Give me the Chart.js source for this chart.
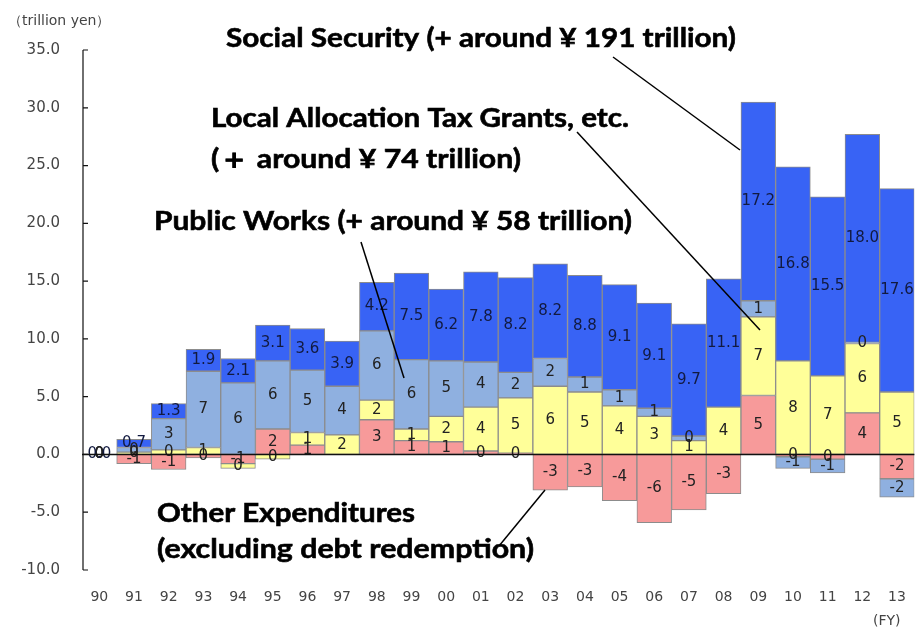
<!DOCTYPE html>
<html>
<head>
<meta charset="utf-8">
<script src="https://cdn.jsdelivr.net/npm/chart.js@4.4.1/dist/chart.umd.min.js"></script>
<style>
  html, body { margin: 0; padding: 0; background: #fff; overflow: hidden; width: 917px; height: 630px; }
  canvas { display: block; }
</style>
</head>
<body>
<canvas id="chart" width="925" height="630"></canvas>
<script>
// Fiskaljahre und Werte (Billionen Yen)
const years = ["90","91","92","93","94","95","96","97","98","99","00","01","02","03","04","05","06","07","08","09","10","11","12","13"];
const socialSecurity  = [0, 0.7, 1.3, 1.9, 2.1, 3.1, 3.6, 3.9, 4.2, 7.5, 6.2, 7.8, 8.2, 8.2, 8.8, 9.1, 9.1, 9.7, 11.1, 17.2, 16.8, 15.5, 18.0, 17.6];
const publicWorks     = [0, 0.4, 2.7, 6.6, 6.2, 5.9, 5.4, 4.2, 6.0, 6.0, 4.8, 3.9, 2.2, 2.4, 1.3, 1.4, 0.7, 0.4, null, 1.4, -1.0, -1.2, 0.1, -1.6];
const localAllocation = [0, 0.2, 0.4, 0.6, -0.4, -0.4, 1.1, 1.7, 1.7, 1.0, 2.2, 3.8, 4.8, 5.9, 5.4, 4.2, 3.3, 1.2, 4.1, 6.8, 8.1, 6.8, 6.0, 5.4];
const otherExpenses   = [0, -0.8, -1.3, -0.3, -0.8, 2.2, 0.8, null, 3.0, 1.2, 1.1, 0.3, 0.1, -3.1, -2.8, -4.0, -5.9, -4.8, -3.4, 5.1, -0.2, -0.4, 3.6, -2.1];
const yTicks = [-10, -5, 0, 5, 10, 15, 20, 25, 30, 35];

// Beschriftungen im Diagramm
const notes = [
    { text: "Social Security (+ around ¥ 191 trillion)", x: 226, y: 47, w: 510 },
    { text: "Local Allocation Tax Grants, etc.", x: 211, y: 127, w: 418 },
    { text: "(＋ around ¥ 74 trillion)", x: 211, y: 168, w: 310 },
    { text: "Public Works (+ around ¥ 58 trillion)", x: 154, y: 230, w: 478 },
    { text: "Other Expenditures", x: 157, y: 522, w: 258 },
    { text: "(excluding debt redemption)", x: 157, y: 558, w: 377 }
];
const pointers = [
    [613, 57, 740, 150],
    [577, 132, 760, 330],
    [361, 242, 404, 378],
    [499, 546, 545, 490]
];

const smallFont = "'DejaVu Sans', sans-serif";
const barStyle = { borderColor: "#8c8c8c", borderWidth: 1, borderSkipped: false, stack: "s" };

// Zahlen in den Balken
const valueLabels = {
    id: "valueLabels",
    afterDatasetsDraw(chart) {
        const ctx = chart.ctx;
        ctx.save();
        ctx.font = "15px " + smallFont;
        ctx.textAlign = "center";
        ctx.textBaseline = "middle";
        chart.data.datasets.forEach((ds, i) => {
            chart.getDatasetMeta(i).data.forEach((bar, j) => {
                const v = ds.data[j];
                if (v === null || v === undefined) return;
                const p = bar.getCenterPoint();
                const txt = ds.decimals ? v.toFixed(1) : String(Math.round(v) || 0);
                ctx.fillStyle = ds.decimals ? "#121a40" : "#222";
                ctx.fillText(txt, p.x, p.y);
            });
        });
        ctx.restore();
    }
};

// Achse, Nulllinie, Texte und Linien
const decorations = {
    id: "decorations",
    afterDraw(chart) {
        const ctx = chart.ctx;
        const area = chart.chartArea;
        const y = chart.scales.y;
        ctx.save();
        ctx.strokeStyle = "#111";
        ctx.lineWidth = 1.5;
        ctx.beginPath();
        ctx.moveTo(area.left, y.getPixelForValue(0));
        ctx.lineTo(area.right, y.getPixelForValue(0));
        ctx.stroke();

        ctx.lineWidth = 1.2;
        ctx.beginPath();
        ctx.moveTo(area.left + 1, y.getPixelForValue(35));
        ctx.lineTo(area.left + 1, y.getPixelForValue(-10));
        yTicks.forEach(t => {
            const py = y.getPixelForValue(t);
            ctx.moveTo(area.left + 1, py);
            ctx.lineTo(area.left + 6, py);
        });
        ctx.stroke();

        ctx.fillStyle = "#444";
        ctx.font = "14px " + smallFont;
        ctx.textAlign = "left";
        ctx.textBaseline = "alphabetic";
        ctx.fillText("（trillion yen）", 8, 25);
        ctx.fillText("(FY)", 873, 625);

        ctx.fillStyle = "#000";
        ctx.strokeStyle = "#000";
        ctx.lineWidth = 0.6;
        ctx.font = "bold 27px Lato, 'Open Sans', sans-serif";
        notes.forEach(n => {
            const m = ctx.measureText(n.text).width;
            ctx.save();
            ctx.translate(n.x, n.y);
            ctx.scale(n.w / m, 1);
            ctx.fillText(n.text, 0, 0);
            ctx.strokeText(n.text, 0, 0);
            ctx.restore();
        });

        ctx.lineWidth = 1.5;
        pointers.forEach(l => {
            ctx.beginPath();
            ctx.moveTo(l[0], l[1]);
            ctx.lineTo(l[2], l[3]);
            ctx.stroke();
        });
        ctx.restore();
    }
};

new Chart(document.getElementById("chart"), {
    type: "bar",
    data: {
        labels: years,
        datasets: [
            Object.assign({ label: "Other Expenditures", data: otherExpenses, backgroundColor: "#f79a9a" }, barStyle),
            Object.assign({ label: "Local Allocation Tax Grants", data: localAllocation, backgroundColor: "#ffff99" }, barStyle),
            Object.assign({ label: "Public Works", data: publicWorks, backgroundColor: "#8fb0e0" }, barStyle),
            Object.assign({ label: "Social Security", data: socialSecurity, backgroundColor: "#3863f5", decimals: true }, barStyle)
        ]
    },
    options: {
        responsive: false,
        animation: false,
        devicePixelRatio: 1,
        layout: { padding: { top: 50, right: 3, left: 0, bottom: 0 } },
        datasets: { bar: { barPercentage: 1, categoryPercentage: 1 } },
        plugins: { legend: { display: false }, tooltip: { enabled: false } },
        scales: {
            x: {
                stacked: true,
                grid: { display: false, drawTicks: false },
                border: { display: false },
                ticks: { color: "#444", font: { family: smallFont, size: 14 }, padding: 19, maxRotation: 0, autoSkip: false },
                afterFit: s => { s.height = 60; }
            },
            y: {
                stacked: true,
                min: -10,
                max: 35,
                grid: { display: false, drawTicks: false },
                border: { display: false },
                afterBuildTicks: s => { s.ticks = yTicks.map(v => ({ value: v })); },
                ticks: {
                    color: "#444",
                    font: { family: smallFont, size: 15 },
                    padding: 22,
                    callback: v => v.toFixed(1)
                },
                afterFit: s => { s.width = 82; }
            }
        }
    },
    plugins: [valueLabels, decorations]
});
</script>
</body>
</html>
